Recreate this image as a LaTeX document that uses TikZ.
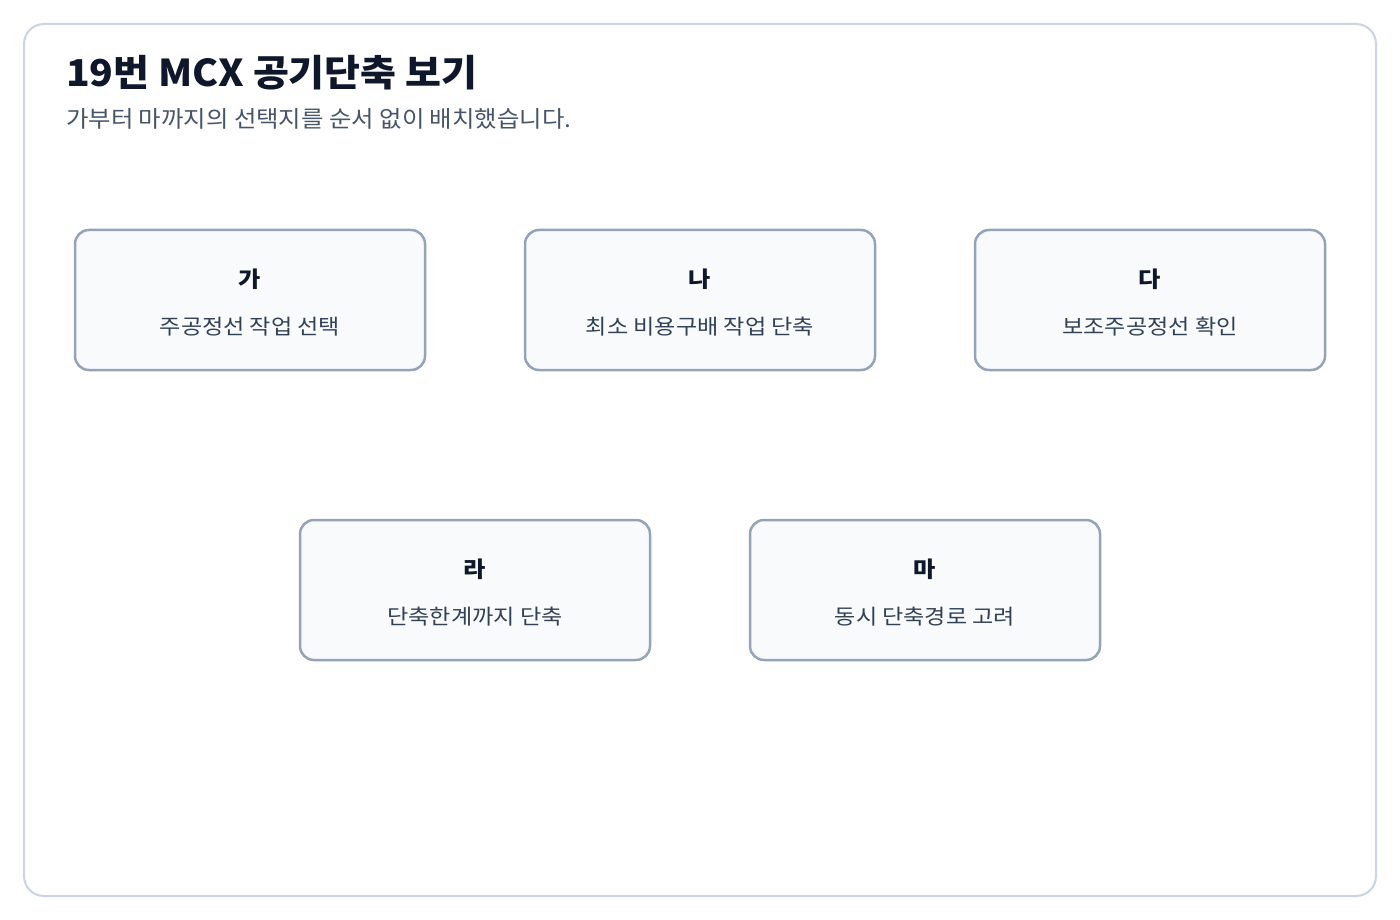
\documentclass[tikz,border=0pt]{standalone}
\usepackage{fontspec}
\setmainfont{Noto Sans CJK KR}
\newfontfamily\titlefont[FakeStretch=1.055]{Noto Sans CJK KR}
\newfontfamily\subfont[FakeStretch=1.06]{Noto Sans CJK KR}
\newfontfamily\descfont[FakeStretch=1.1]{Noto Sans CJK KR}
\definecolor{frame}{HTML}{CBD5E1}
\definecolor{boxline}{HTML}{94A3B8}
\definecolor{boxfill}{HTML}{F8FAFC}
\definecolor{titlec}{HTML}{0F172A}
\definecolor{subc}{HTML}{475569}
\definecolor{descc}{HTML}{334155}
\tikzset{
  choice/.style={draw=boxline, line width=2.5pt, fill=boxfill, rounded corners=14pt,
    minimum width=350pt, minimum height=140pt, inner sep=0pt},
  lbl/.style={font=\descfont\fontsize{22pt}{26pt}\selectfont\bfseries, text=titlec},
  desc/.style={font=\descfont\fontsize{21pt}{25pt}\selectfont, text=descc}
}
\begin{document}
\begin{tikzpicture}[x=1pt,y=-1pt]
\useasboundingbox (0,0) rectangle (1400,920);
\node[draw=frame, line width=2pt, rounded corners=20pt, fill=white, minimum width=1352pt, minimum height=872pt, inner sep=0pt] (frame) at (700,460) {};
\node[anchor=base west, inner sep=0pt, font=\titlefont\fontsize{37pt}{41pt}\selectfont\bfseries, text=titlec] (title) at (66,87) {19번 MCX 공기단축 보기};
\node[anchor=base west, inner sep=0pt, font=\subfont\fontsize{23pt}{27pt}\selectfont, text=subc] (sub) at (66,128) {가부터 마까지의 선택지를 순서 없이 배치했습니다.};
\foreach \n/\cx/\cy/\l/\d in {a/250/300/가/주공정선 작업 선택, b/700/300/나/최소 비용구배 작업 단축, c/1150/300/다/보조주공정선 확인, d/475/590/라/단축한계까지 단축, e/925/590/마/동시 단축경로 고려}{
  \node[choice] (\n) at (\cx,\cy) {};
  \node[lbl, anchor=base] (\n l) at (\cx,\cy-13) {\l};
  \node[desc, anchor=base] (\n d) at (\cx,\cy+34) {\d};
}
\end{tikzpicture}
\end{document}
